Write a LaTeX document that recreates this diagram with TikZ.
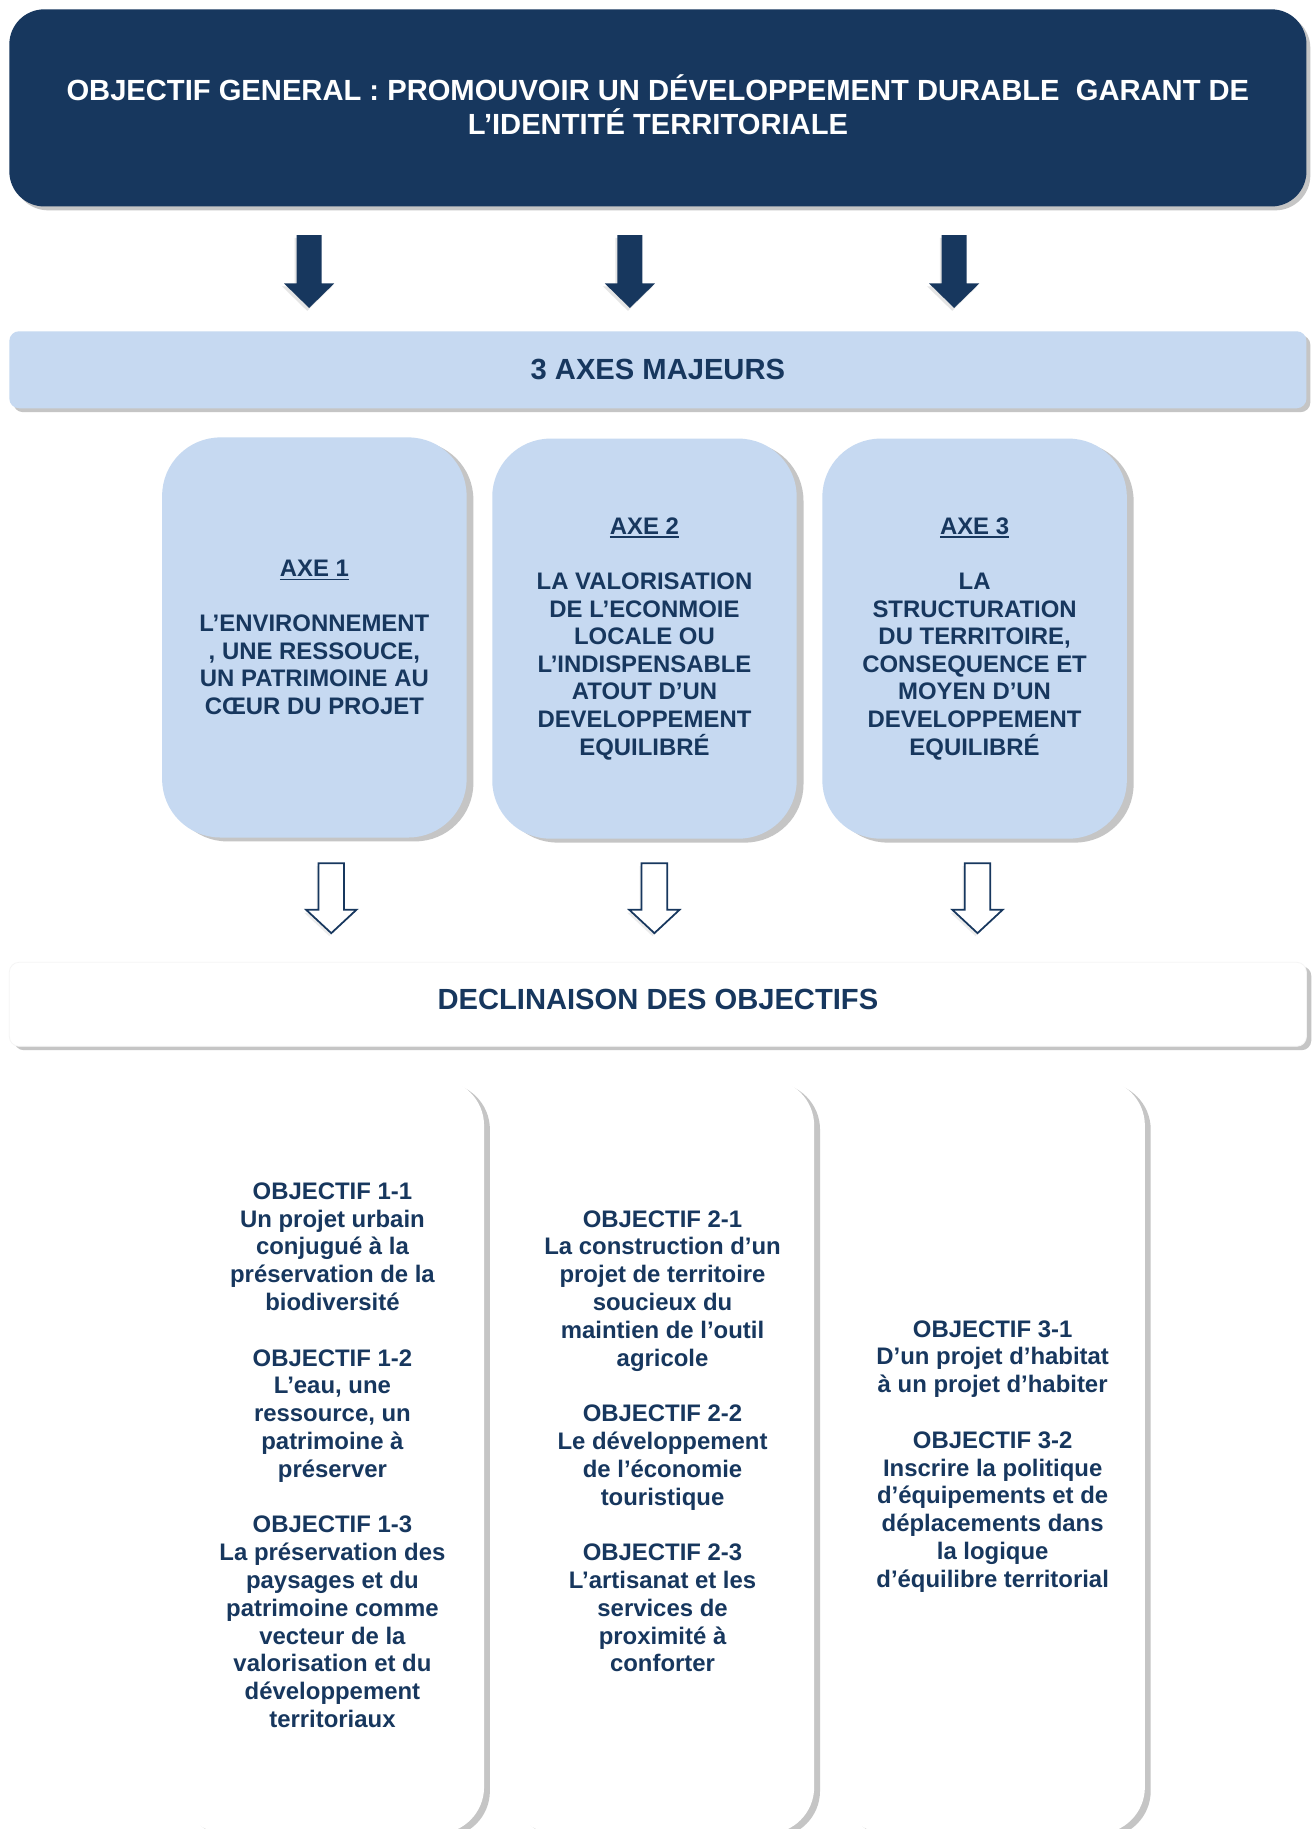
\documentclass[tikz,border=0pt]{standalone}
\usepackage{fontspec}
\setmainfont{Liberation Sans}
\usetikzlibrary{shadows}
\definecolor{navy}{HTML}{17375E}
\definecolor{lblue}{HTML}{C6D9F1}
\newcommand\axul[1]{\setbox0\hbox{#1}\rlap{\rule[-1.9pt]{\wd0}{0.85pt}}\box0}
\begin{document}
\begin{tikzpicture}[x=0.6pt,y=-0.6pt,
  bigtxt/.style={font=\bfseries\fontsize{15}{17.4}\selectfont},
  smalltxt/.style={font=\bfseries\fontsize{12.3}{14.2}\selectfont},
  objtxt/.style={font=\bfseries\fontsize{12.3}{14.3}\selectfont, text=navy, align=center, inner sep=0pt},
  softshadow/.style={drop shadow={shadow xshift=#1, shadow yshift=-2pt, opacity=0.3, fill=black!75}},
  topbox/.style={fill=navy, rounded corners=18pt,
    minimum width=667.2pt, minimum height=101.4pt, inner sep=0pt, softshadow=2pt},
  toptxt/.style={text=white, bigtxt, align=center, inner sep=0pt},
  barbox/.style={fill=lblue, text=navy, bigtxt, align=center, rounded corners=5pt,
    minimum width=667.2pt, minimum height=39.6pt, inner sep=0pt, softshadow=2pt},
  declbox/.style={fill=white, draw=black!4, rounded corners=5pt,
    minimum width=667.2pt, minimum height=43.2pt, inner sep=0pt, softshadow=2.5pt},
  decltxt/.style={text=navy, bigtxt, align=center, inner sep=0pt},
  axebox/.style={fill=lblue, text=navy, smalltxt, align=center, rounded corners=30pt,
    minimum width=156.6pt, minimum height=205.8pt, inner sep=0pt, softshadow=3.5pt},
  colbox/.style={fill=white, rounded corners=24pt,
    minimum width=156.6pt, minimum height=388.2pt, inner sep=0pt, softshadow=3pt},
  solidarrow/.style={fill=navy, drop shadow={shadow xshift=-1pt, shadow yshift=-1.5pt, opacity=0.2}},
  hollowarrow/.style={draw=navy, fill=white, line width=0.9pt, line join=miter,
    drop shadow={shadow xshift=-1pt, shadow yshift=-1.5pt, opacity=0.15}}
]
\fill[white] (0,0) rectangle (1125,1568);
\clip (0,0) rectangle (1125,1568);

% top box
\node[topbox] (top) at (564,92.5) {};
\node[toptxt] (toptext) at (564,89.5)
  {OBJECTIF GENERAL : PROMOUVOIR UN DÉVELOPPEMENT DURABLE~ GARANT DE\\L’IDENTITÉ TERRITORIALE};

% solid arrows
\foreach \cx in {265,540,818}{
  \path[solidarrow] (\cx-10.7,201.5) -- (\cx+10.7,201.5) -- (\cx+10.7,243) -- (\cx+21.5,243)
    -- (\cx,264) -- (\cx-21.5,243) -- (\cx-10.7,243) -- cycle;
}

% axes bar
\node[barbox] (bar) at (564,317) {3 AXES MAJEURS};

% axis boxes
\node[axebox] (axe1) at (269.5,546.5)
  {\axul{AXE 1}\\[14.2pt]L’ENVIRONNEMENT\\, UNE RESSOUCE,\\UN PATRIMOINE AU\\CŒUR DU PROJET};
\node[axebox] (axe2) at (552.5,547.5)
  {\axul{AXE 2}\\[14.2pt]LA VALORISATION\\DE L’ECONMOIE\\LOCALE OU\\L’INDISPENSABLE\\ATOUT D’UN\\DEVELOPPEMENT\\EQUILIBRÉ};
\node[axebox] (axe3) at (835.5,547.5)
  {\axul{AXE 3}\\[14.2pt]LA\\STRUCTURATION\\DU TERRITOIRE,\\CONSEQUENCE ET\\MOYEN D’UN\\DEVELOPPEMENT\\EQUILIBRÉ};

% hollow arrows
\foreach \cx in {284,561,838}{
  \path[hollowarrow] (\cx-11,740) -- (\cx+11,740) -- (\cx+11,780) -- (\cx+21.5,780)
    -- (\cx,800) -- (\cx-21.5,780) -- (\cx-11,780) -- cycle;
}

% declinaison box
\node[declbox] (decl) at (564,861) {};
\node[decltxt] (decltext) at (564,857) {DECLINAISON DES OBJECTIFS};

% columns
\node[colbox] (col1) at (284.5,1248.5) {};
\node[colbox] (col2) at (567.5,1248.5) {};
\node[colbox] (col3) at (851,1248.5) {};

\node[objtxt] (obj1) at (285,1247.5)
  {OBJECTIF 1-1\\Un projet urbain\\conjugué à la\\préservation de la\\biodiversité\\[14.3pt]OBJECTIF 1-2\\L’eau, une\\ressource, un\\patrimoine à\\préserver\\[14.3pt]OBJECTIF 1-3\\La préservation des\\paysages et du\\patrimoine comme\\vecteur de la\\valorisation et du\\développement\\territoriaux};
\node[objtxt] (obj2) at (568,1235.5)
  {OBJECTIF 2-1\\La construction d’un\\projet de territoire\\soucieux du\\maintien de l’outil\\agricole\\[14.3pt]OBJECTIF 2-2\\Le développement\\de l’économie\\touristique\\[14.3pt]OBJECTIF 2-3\\L’artisanat et les\\services de\\proximité à\\conforter};
\node[objtxt] (obj3) at (851,1248.5)
  {OBJECTIF 3-1\\D’un projet d’habitat\\à un projet d’habiter\\[14.3pt]OBJECTIF 3-2\\Inscrire la politique\\d’équipements et de\\déplacements dans\\la logique\\d’équilibre territorial};
\end{tikzpicture}
\end{document}
